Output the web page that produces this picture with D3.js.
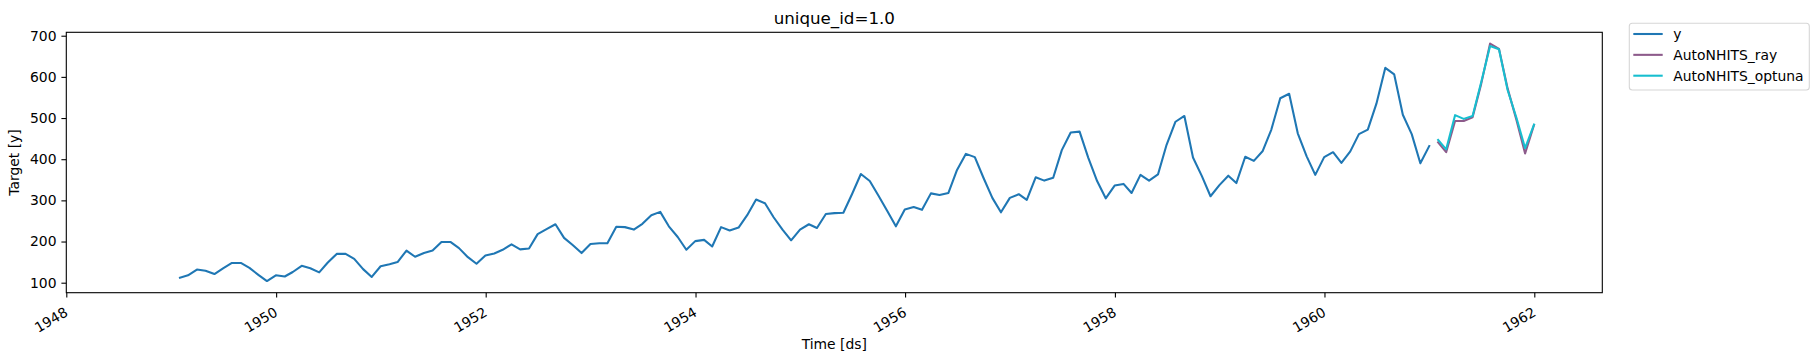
<!DOCTYPE html>
<html>
<head>
<meta charset="utf-8">
<script src="https://cdn.jsdelivr.net/npm/d3@7"></script>
<style>
  body { margin: 0; background: #fff; }
  text { font-family: "DejaVu Sans", sans-serif; fill: #000; }
</style>
</head>
<body>
<svg id="chart" width="1819" height="361"></svg>
<script>
// monthly passengers, Jan 1949 .. Dec 1960
var yValues = [
  112,118,132,129,121,135,148,148,136,119,104,118,
  115,126,141,135,125,149,170,170,158,133,114,140,
  145,150,178,163,172,178,199,199,184,162,146,166,
  171,180,193,181,183,218,230,242,209,191,172,194,
  196,196,236,235,229,243,264,272,237,211,180,201,
  204,188,235,227,234,264,302,293,259,229,203,229,
  242,233,267,269,270,315,364,347,312,274,237,278,
  284,277,317,313,318,374,413,405,355,306,271,306,
  315,301,356,348,355,422,465,467,404,347,305,336,
  340,318,362,348,363,435,491,505,404,359,310,337,
  360,342,406,396,420,472,548,559,463,407,362,405,
  417,391,419,461,472,535,622,606,508,461,390,432
];
// forecasts Jan 1961 .. Dec 1961
var rayValues    = [441,417,493,493,502,583,681,668,572,495,414,483];
var optunaValues = [447,424,507,498,505,587,675,667,568,500,427,484];

var yStart = [1949, 0];
var fcStart = [1961, 0];
var yTicks = [100,200,300,400,500,600,700];
var xTickYears = [1948,1950,1952,1954,1956,1958,1960,1962];
var seriesNames = ["y", "AutoNHITS_ray", "AutoNHITS_optuna"];
var colors = ["#1f77b4", "#8d5b8b", "#17becf"];

// month end dates
function monthEnd(start, i) { return new Date(start[0], start[1] + i + 1, 0); }

var svg = d3.select("#chart");
var margin = {left: 66.3, top: 32.3, right: 1602.3, bottom: 292.7};

var x = d3.scaleTime()
  .domain([new Date(1948,0,1), new Date(1962,0,1)])
  .range([margin.left, 1534.3]);
x.domain([new Date(1948,0,1), x.invert(margin.right)]).range([margin.left, margin.right]);

var y = d3.scaleLinear()
  .domain([75.7, 708.3])
  .range([margin.bottom, margin.top]);

var fs = 13.9;

// lines
var line = d3.line()
  .x(function(d) { return x(d.date); })
  .y(function(d) { return y(d.value); });

var seriesData = [
  yValues.map(function(v, i) { return {date: monthEnd(yStart, i), value: v}; }),
  rayValues.map(function(v, i) { return {date: monthEnd(fcStart, i), value: v}; }),
  optunaValues.map(function(v, i) { return {date: monthEnd(fcStart, i), value: v}; })
];

svg.append("g").selectAll("path")
  .data(seriesData)
  .enter().append("path")
    .attr("d", line)
    .attr("fill", "none")
    .attr("stroke", function(d, i) { return colors[i]; })
    .attr("stroke-width", 2.08)
    .attr("stroke-linejoin", "round")
    .attr("stroke-linecap", "square");

// y axis
var yAxis = svg.append("g")
  .attr("transform", "translate(" + margin.left + ",0)")
  .call(d3.axisLeft(y).tickValues(yTicks).tickSize(4.9).tickPadding(4.9));
yAxis.select(".domain").remove();
yAxis.selectAll(".tick line").attr("stroke", "#000").attr("stroke-width", 1.1);
yAxis.selectAll(".tick text").attr("font-size", fs).attr("font-family", "DejaVu Sans").style("fill", "#000");

// x axis
var xAxis = svg.append("g")
  .attr("transform", "translate(0," + margin.bottom + ")")
  .call(d3.axisBottom(x)
    .tickValues(xTickYears.map(function(yr) { return new Date(yr, 0, 1); }))
    .tickFormat(d3.timeFormat("%Y"))
    .tickSize(4.9));
xAxis.select(".domain").remove();
xAxis.selectAll(".tick line").attr("stroke", "#000").attr("stroke-width", 1.1);
xAxis.selectAll(".tick text")
  .attr("font-size", fs).attr("font-family", "DejaVu Sans").style("fill", "#000")
  .attr("y", null).attr("dy", null)
  .attr("text-anchor", "end")
  .attr("transform", "translate(2,22.5) rotate(-30)");

// frame
svg.append("rect")
  .attr("x", margin.left).attr("y", margin.top)
  .attr("width", margin.right - margin.left)
  .attr("height", margin.bottom - margin.top)
  .attr("fill", "none").attr("stroke", "#000").attr("stroke-width", 1.1);

// title & labels
var cx = (margin.left + margin.right) / 2;
svg.append("text").attr("x", cx).attr("y", 24)
  .attr("text-anchor", "middle").attr("font-size", 16.7).text("unique_id=1.0");
svg.append("text").attr("x", cx).attr("y", 349)
  .attr("text-anchor", "middle").attr("font-size", fs).text("Time [ds]");
svg.append("text")
  .attr("transform", "translate(19," + ((margin.top + margin.bottom) / 2) + ") rotate(-90)")
  .attr("text-anchor", "middle").attr("font-size", fs).text("Target [y]");

// legend
var legend = svg.append("g");
legend.append("rect")
  .attr("x", 1629.3).attr("y", 23.3).attr("width", 180).attr("height", 66.7)
  .attr("rx", 3).attr("fill", "#fff").attr("fill-opacity", 0.8)
  .attr("stroke", "#d6d6d6").attr("stroke-width", 1.1);
var item = legend.selectAll("g.item")
  .data(seriesNames)
  .enter().append("g")
    .attr("class", "item")
    .attr("transform", function(d, i) { return "translate(0," + (34 + i * 20.85) + ")"; });
item.append("line")
  .attr("x1", 1633.3).attr("x2", 1662.7)
  .attr("stroke", function(d, i) { return colors[i]; })
  .attr("stroke-width", 2.08);
item.append("text")
  .attr("x", 1673.3).attr("dy", "0.35em")
  .attr("font-size", fs)
  .text(function(d) { return d; });
</script>
</body>
</html>
